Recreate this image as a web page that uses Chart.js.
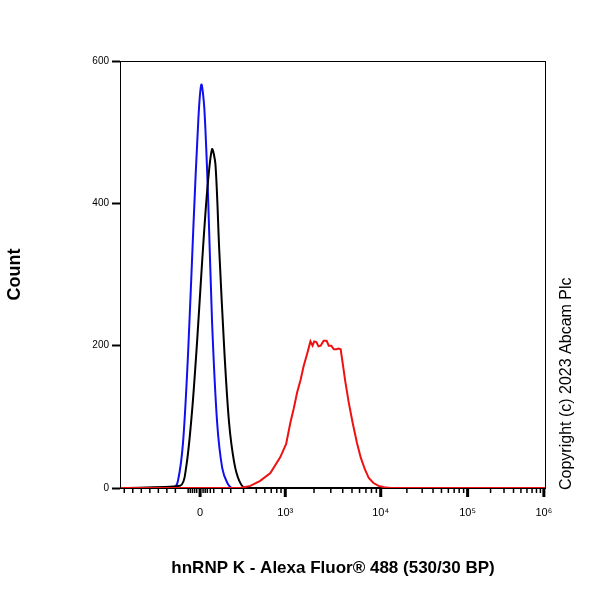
<!DOCTYPE html>
<html><head><meta charset="utf-8">
<script src="https://cdn.jsdelivr.net/npm/chart.js@4/dist/chart.umd.min.js"></script>
<style>body{margin:0;background:#fff}#w{width:600px;height:600px}</style>
</head><body><div id="w"><canvas id="c"></canvas></div>
<script>
// x in display channel units (0..1000) of a biexponential axis
const decadePositions = [188, 388, 612, 816, 995];
const decadeLabels = ['0', '10³', '10⁴', '10⁵', '10⁶'];
const yTicks = [0, 200, 400, 600];

const blueX = [0,125,136,148,160,172,184,191,198,207,216,228,240,252,264,1000];
const blueY = [0,0,10,64,192,363,519,567,533,405,235,92,28,7,0,0];
const blackX = [0,141,155,169,181,193,205,216,224,233,245,256,268,280,294,1000];
const blackY = [0,3,28,107,206,320,420,476,455,334,192,92,36,10,0,0];
const redX = [0,282,306,329,353,376,390,400,408,416,424,431,440,447,452,456,461,466,471,478,485,490,496,502,508,513,518,524,529,537,546,556,565,575,584,595,607,620,635,1000];
const redY = [0,0,3,10,21,43,62,92,112,135,152,171,190,206,200,206,205,199,200,207,207,200,200,195,195,196,195,170,149,120,92,64,43,26,14,7,3,1,0,0];

const minorTicks = [];
for (let i = 1; i < decadePositions.length - 1; i++) {
  const a = decadePositions[i], b = decadePositions[i+1];
  for (let m = 2; m < 10; m++) minorTicks.push(a + (b - a) * Math.log10(m));
}
// ticks in linear region around zero
[10,30,50,70,90,110,130,160,165,170,175,180,195,200,205,212,220,240,260,290,320,340,355,368,378].forEach(v=>minorTicks.push(v));

const ser = (xs, ys) => xs.map((x, i) => ({x, y: ys[i]}));

const deco = {
  id: 'deco',
  afterDraw(ch) {
    const c = ch.ctx, xs = ch.scales.x, a = ch.chartArea;
    c.save();
    c.strokeStyle = '#000'; c.lineWidth = 1;
    c.strokeRect(a.left + 0.5, a.top + 0.5, a.right - a.left - 1, a.bottom - a.top);
    c.lineWidth = 1.5;
    minorTicks.forEach(v => { const p = xs.getPixelForValue(v); c.beginPath(); c.moveTo(p, a.bottom); c.lineTo(p, a.bottom + 5); c.stroke(); });
    c.lineWidth = 3;
    decadePositions.forEach(v => { const p = xs.getPixelForValue(v); c.beginPath(); c.moveTo(p, a.bottom); c.lineTo(p, a.bottom + 9); c.stroke(); });
    c.translate(567, 490); c.rotate(-Math.PI / 2);
    c.fillStyle = '#000'; c.font = '16px Arial, "Liberation Sans"'; c.textBaseline = 'middle';
    c.fillText('Copyright (c) 2023 Abcam Plc', 0, 0);
    c.restore();
  }
};

new Chart(document.getElementById('c'), {
  type: 'line',
  data: { datasets: [
    { data: ser(redX, redY), borderColor: '#ee1111', borderWidth: 2, pointRadius: 0, tension: 0 },
    { data: ser(blackX, blackY), borderColor: '#000', borderWidth: 2, pointRadius: 0, tension: 0.3 },
    { data: ser(blueX, blueY), borderColor: '#1010ee', borderWidth: 2, pointRadius: 0, tension: 0.3 }
  ]},
  options: {
    responsive: true, maintainAspectRatio: false, animation: false,
    layout: { padding: { top: 61, right: 54, left: 0, bottom: 21 } },
    plugins: { legend: { display: false }, tooltip: { enabled: false } },
    scales: {
      x: {
        type: 'linear', min: 0, max: 1000,
        afterBuildTicks: s => { s.ticks = decadePositions.map(v => ({value: v})); },
        afterFit: s => { s.height = 91; },
        ticks: { callback: (v) => decadeLabels[decadePositions.indexOf(v)] ?? '', color: '#000', font: { family: 'Arial, "Liberation Sans"', size: 11 }, padding: 18, maxRotation: 0, autoSkip: false },
        grid: { display: false, drawTicks: false },
        border: { display: false },
        title: { display: true, text: 'hnRNP K - Alexa Fluor® 488 (530/30 BP)', color: '#000', font: { family: 'Arial, "Liberation Sans"', size: 17, weight: 'bold' }, padding: { top: 28, bottom: 0 } }
      },
      y: {
        min: 0, max: 600,
        afterBuildTicks: s => { s.ticks = yTicks.map(v => ({value: v})); },
        afterFit: s => { s.width = 120; },
        ticks: { color: '#000', font: { family: 'Arial, "Liberation Sans"', size: 10 }, padding: 3 },
        grid: { drawOnChartArea: false, tickLength: 8, color: '#000', tickWidth: 2 },
        border: { display: false },
        title: { display: true, text: 'Count', color: '#000', font: { family: 'Arial, "Liberation Sans"', size: 18, weight: 'bold' }, padding: { bottom: 45 } }
      }
    }
  },
  plugins: [deco]
});
</script></body></html>
